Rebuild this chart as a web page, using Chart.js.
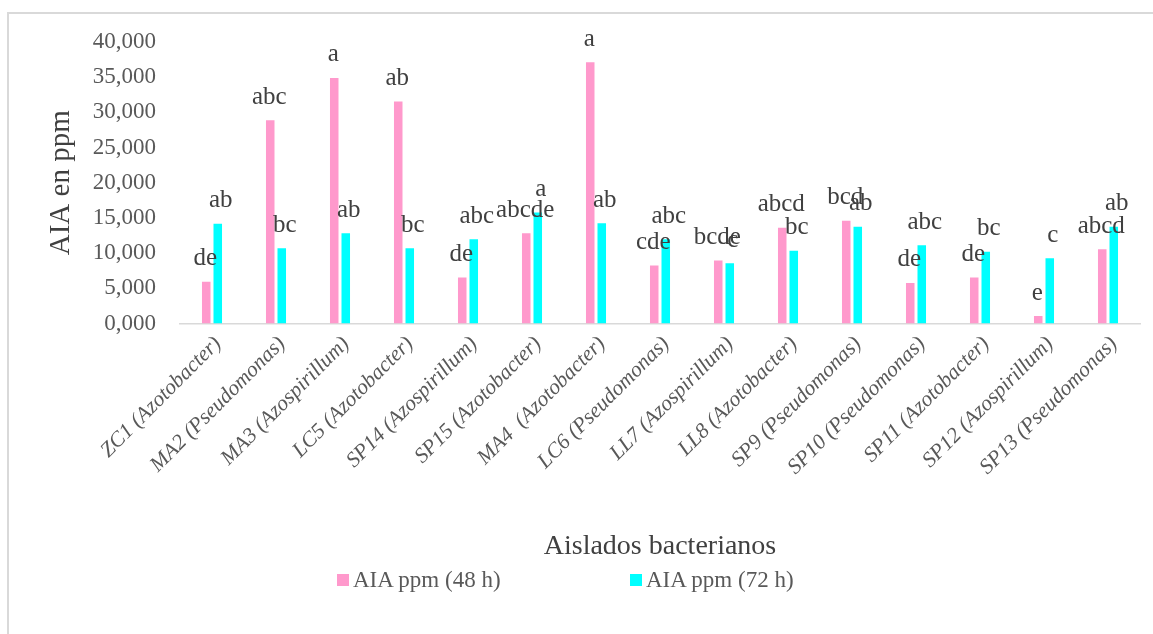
<!DOCTYPE html>
<html>
<head>
<meta charset="utf-8">
<script src="https://cdn.jsdelivr.net/npm/chart.js@4.4.1/dist/chart.umd.min.js"></script>
<style>
  html, body { margin: 0; padding: 0; background: #fff; }
  #wrap { position: relative; width: 1153px; height: 634px; overflow: hidden; }
  #frame { position: absolute; left: 7px; top: 12px; right: -4px; bottom: -4px;
           border-left: 2px solid #d9d9d9; border-top: 2px solid #d9d9d9; }
  #chart { position: absolute; left: 0; top: 0; }
  #legend { position: absolute; left: 337px; top: 567px; display: flex;
            font-family: "Liberation Serif", serif; font-size: 23px; color: #595959; }
  #legend .item { width: 293px; display: flex; align-items: center; white-space: nowrap; }
  #legend .sw { width: 12px; height: 12px; margin-right: 4px; flex: none; }
</style>
</head>
<body>
<div id="wrap">
  <div id="frame"></div>
  <canvas id="chart" width="1153" height="634"></canvas>
  <div id="legend"></div>
</div>
<script>
// Bacterial isolates
const categories = [
  'ZC1 (Azotobacter)', 'MA2 (Pseudomonas)', 'MA3 (Azospirillum)', 'LC5 (Azotobacter)',
  'SP14 (Azospirillum)', 'SP15 (Azotobacter)', 'MA4  (Azotobacter)', 'LC6 (Pseudomonas)',
  'LL7 (Azospirillum)', 'LL8 (Azotobacter)', 'SP9 (Pseudomonas)', 'SP10 (Pseudomonas)',
  'SP11 (Azotobacter)', 'SP12 (Azospirillum)', 'SP13 (Pseudomonas)'
];

// IAA concentration (ppm) after 48 h and 72 h
const aia48h = [5.95, 28.87, 34.90, 31.53, 6.52, 12.84, 37.13, 8.23, 8.94, 13.59, 14.59, 5.77, 6.52, 1.07, 10.56];
const aia72h = [14.16, 10.70, 12.84, 10.70, 11.98, 15.77, 14.26, 11.98, 8.57, 10.32, 13.74, 11.13, 10.18, 9.28, 13.74];

// Significance letters for each series
const letters48h = ['de', 'abc', 'a', 'ab', 'de', 'abcde', 'a', 'cde', 'bcde', 'abcd', 'bcd', 'de', 'de', 'e', 'abcd'];
const letters72h = ['ab', 'bc', 'ab', 'bc', 'abc', 'a', 'ab', 'abc', 'c', 'bc', 'ab', 'abc', 'bc', 'c', 'ab'];

const seriesNames = ['AIA ppm (48 h)', 'AIA ppm (72 h)'];
const seriesColors = ['#ff99cc', '#00ffff'];

// Y axis range and step
const yMin = 0, yMax = 40, yStep = 5;

const SERIF = '"Liberation Serif", "Times New Roman", serif';
Chart.defaults.font.family = SERIF;
Chart.defaults.color = '#595959';

// Draws the significance letters above each bar
const letterLabels = {
  id: 'letterLabels',
  afterDatasetsDraw(chart) {
    const ctx = chart.ctx;
    ctx.save();
    ctx.font = '25px ' + SERIF;
    ctx.fillStyle = '#404040';
    ctx.textAlign = 'center';
    ctx.textBaseline = 'middle';
    [letters48h, letters72h].forEach((set, di) => {
      chart.getDatasetMeta(di).data.forEach((bar, i) => {
        ctx.fillText(set[i], bar.x + (di ? 3 : -1), bar.y - 23);
      });
    });
    ctx.restore();
  }
};

const chart = new Chart(document.getElementById('chart'), {
  type: 'bar',
  data: {
    labels: categories,
    datasets: [
      { label: seriesNames[0], data: aia48h, backgroundColor: seriesColors[0] },
      { label: seriesNames[1], data: aia72h, backgroundColor: seriesColors[1] }
    ]
  },
  options: {
    responsive: false,
    animation: false,
    categoryPercentage: 0.36,
    barPercentage: 0.74,
    layout: { padding: { left: 9, right: 13, top: 42, bottom: 70 } },
    plugins: {
      legend: { display: false },
      tooltip: { enabled: false }
    },
    scales: {
      x: {
        grid: { display: true, color: 'transparent', drawOnChartArea: false, drawTicks: false },
        border: { display: true, color: '#d9d9d9', width: 1.5 },
        ticks: {
          autoSkip: false, minRotation: 45, maxRotation: 45, padding: 8, labelOffset: 6,
          color: '#595959',
          font: { family: SERIF, size: 21.5, style: 'italic' }
        },
        title: {
          display: true, text: 'Aislados bacterianos', color: '#404040',
          font: { family: SERIF, size: 28 }, padding: { top: 0, bottom: 1 }
        },
        afterFit(scale) { scale.height = 240.5; }
      },
      y: {
        min: yMin, max: yMax,
        grid: { display: false, drawTicks: false },
        border: { display: false },
        ticks: {
          stepSize: yStep, padding: 24, color: '#595959',
          font: { family: SERIF, size: 23 },
          callback: v => v.toFixed(3).replace('.', ',')
        },
        title: {
          display: true, text: 'AIA en ppm', color: '#404040',
          font: { family: SERIF, size: 29 }, padding: { top: 35, bottom: 0 }
        },
        afterFit(scale) { scale.width = 171; }
      }
    }
  },
  plugins: [letterLabels]
});

// Legend built from the chart's datasets
const legendEl = document.getElementById('legend');
chart.data.datasets.forEach(ds => {
  const item = document.createElement('div');
  item.className = 'item';
  const sw = document.createElement('span');
  sw.className = 'sw';
  sw.style.background = ds.backgroundColor;
  const txt = document.createElement('span');
  txt.textContent = ds.label;
  item.appendChild(sw);
  item.appendChild(txt);
  legendEl.appendChild(item);
});
</script>
</body>
</html>
